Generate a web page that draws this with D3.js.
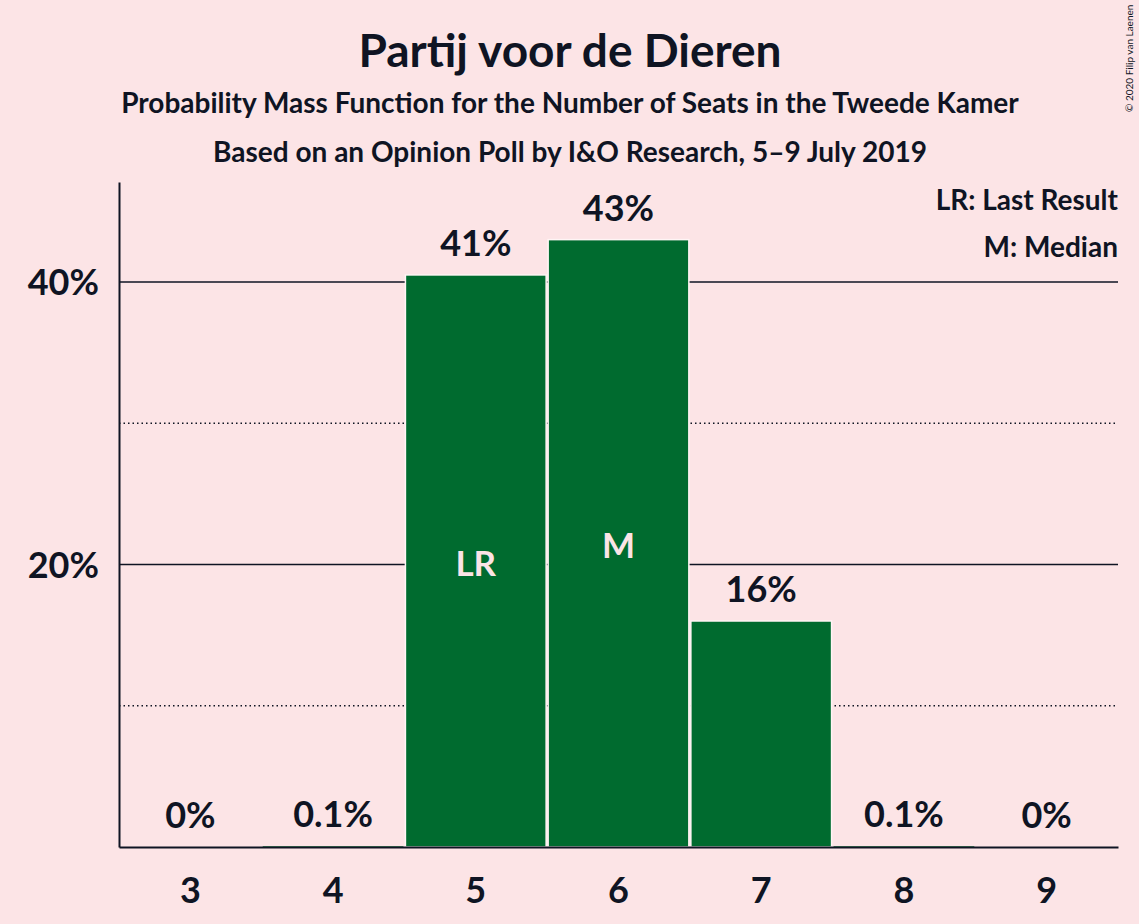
<!DOCTYPE html>
<html>
<head>
<meta charset="utf-8">
<script src="https://cdn.jsdelivr.net/npm/d3@7"></script>
<style>
  body { margin: 0; background: #fce4e6; }
  text { font-family: Lato, sans-serif; font-weight: bold; fill: #0f1423; }
</style>
</head>
<body>
<script>
const seats = [3, 4, 5, 6, 7, 8, 9];
const probs = [0, 0.05, 40.5, 43.0, 16.0, 0.05, 0];
const labels = ['0%', '0.1%', '41%', '43%', '16%', '0.1%', '0%'];
const inBar = {5: 'LR', 6: 'M'};
const solidTicks = [20, 40];
const dottedTicks = [10, 30];

const W = 1139, H = 924;
const mLeft = 119, mRight = 1118, mTop = 182, mBottom = 847;

const svg = d3.select('body').append('svg').attr('width', W).attr('height', H);
svg.append('rect').attr('width', W).attr('height', H).attr('fill', '#fce4e6');

const x = d3.scaleBand().domain(seats).range([mLeft, mRight]).paddingInner(0).paddingOuter(0);
const y = d3.scaleLinear().domain([0, 47.08]).range([mBottom, mTop]);

// grid
svg.selectAll('line.solid').data(solidTicks).enter().append('line')
  .attr('x1', mLeft).attr('x2', mRight).attr('y1', d => y(d)).attr('y2', d => y(d))
  .attr('stroke', '#0f1423').attr('stroke-width', 1.5);
svg.selectAll('line.dot').data(dottedTicks).enter().append('line')
  .attr('x1', mLeft).attr('x2', mRight).attr('y1', d => y(d)).attr('y2', d => y(d))
  .attr('stroke', '#0f1423').attr('stroke-width', 1.5).attr('stroke-dasharray', '1.5,3');

// bars
svg.selectAll('rect.bar').data(seats).enter().append('rect')
  .attr('x', d => x(d) + 1)
  .attr('width', x.bandwidth() - 2)
  .attr('y', (d, i) => y(probs[i]))
  .attr('height', (d, i) => mBottom - y(probs[i]))
  .attr('fill', '#006b2f')
  .attr('stroke', (d, i) => probs[i] > 1 ? '#fff5f5' : 'none')
  .attr('stroke-width', 1.5);

// value labels
svg.selectAll('text.val').data(seats).enter().append('text')
  .attr('x', d => x(d) + x.bandwidth() / 2)
  .attr('y', (d, i) => y(probs[i]) - 19)
  .attr('text-anchor', 'middle')
  .style('font-size', '36px')
  .text((d, i) => labels[i]);

// in-bar labels
svg.selectAll('text.inbar').data(seats.filter(d => inBar[d])).enter().append('text')
  .attr('x', d => x(d) + x.bandwidth() / 2)
  .attr('y', d => (y(probs[seats.indexOf(d)]) + mBottom) / 2 + 15)
  .attr('text-anchor', 'middle')
  .style('font-size', '35px')
  .style('fill', '#fce4e6')
  .text(d => inBar[d]);

// axes
const yAxis = svg.append('g').attr('transform', `translate(${mLeft},0)`)
  .call(d3.axisLeft(y).tickValues(solidTicks).tickFormat(d => d + '%').tickSize(0).tickPadding(20));
yAxis.select('.domain').attr('stroke', '#0f1423').attr('stroke-width', 2);
yAxis.selectAll('text').style('font-size', '36px').attr('dy', '0.36em');

const xAxis = svg.append('g').attr('transform', `translate(0,${mBottom})`)
  .call(d3.axisBottom(x).tickSize(0).tickPadding(30));
xAxis.select('.domain').attr('stroke', '#0f1423').attr('stroke-width', 2);
xAxis.selectAll('text').style('font-size', '36px');

// titles
svg.append('text').attr('x', 570).attr('y', 67).attr('text-anchor', 'middle')
  .style('font-size', '46px').text('Partij voor de Dieren');
svg.append('text').attr('x', 570).attr('y', 113).attr('text-anchor', 'middle')
  .style('font-size', '28px').text('Probability Mass Function for the Number of Seats in the Tweede Kamer');
svg.append('text').attr('x', 570).attr('y', 162).attr('text-anchor', 'middle')
  .style('font-size', '28px').text('Based on an Opinion Poll by I&O Research, 5–9 July 2019');

// legend
svg.append('text').attr('x', mRight).attr('y', 210).attr('text-anchor', 'end')
  .style('font-size', '28px').text('LR: Last Result');
svg.append('text').attr('x', mRight).attr('y', 257).attr('text-anchor', 'end')
  .style('font-size', '28px').text('M: Median');

// copyright
svg.append('text').attr('transform', 'translate(1133,112) rotate(-90)')
  .style('font-size', '10px').style('font-weight', 'normal').text('© 2020 Filip van Laenen');
</script>
</body>
</html>
